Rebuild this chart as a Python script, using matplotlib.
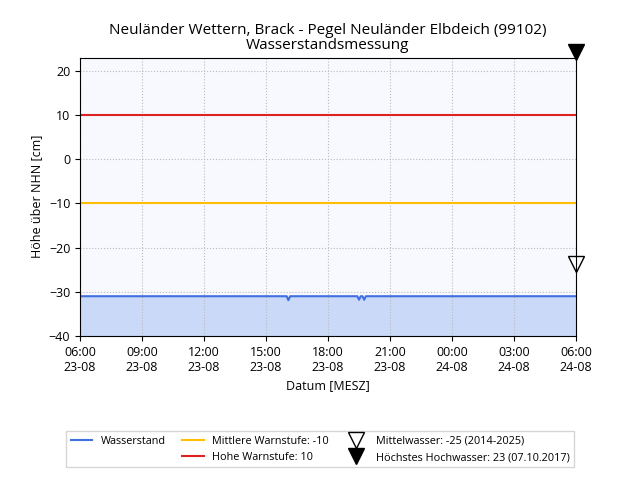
import matplotlib.pyplot as plt
import matplotlib.dates as mdates
from matplotlib.lines import Line2D
import numpy as np
import pandas as pd

plt.rcParams['font.family'] = ['Open Sans', 'DejaVu Sans']

# water level, 5-minute readings from 23-08 06:00 to 24-08 06:00
times = pd.date_range("2025-08-23 06:00", "2025-08-24 06:00", freq="5min")
level = np.full(len(times), -31.0)
dips = {"2025-08-23 16:05": -31.9, "2025-08-23 19:30": -31.8, "2025-08-23 19:45": -31.8}
for t, v in dips.items():
    level[times.get_loc(pd.Timestamp(t))] = v

warn_mid = -10
warn_high = 10
mw = -25
hhw = 23

fig = plt.figure(figsize=(6.4, 4.8), dpi=100)
ax = fig.add_axes([0.125, 0.3, 0.775, 0.58])
ax.set_facecolor("#f8f8ff")

ax.fill_between(times, level, -40, color="#cad9f7")
h1, = ax.plot(times, level, color="#3f6fe0", lw=1.5)
h2 = ax.axhline(warn_mid, color="#ffbf00", lw=1.5)
h3 = ax.axhline(warn_high, color="#dd2222", lw=1.5)
h4, = ax.plot([times[-1]], [mw + 1.3], marker="v", ms=11, mfc="white", mec="black", ls="none",
              clip_on=False)
h5, = ax.plot([times[-1]], [hhw + 1.3], marker="v", ms=11, color="black", ls="none",
              clip_on=False)

ax.set_xlim(times[0], times[-1])
ax.set_ylim(-40, 23)
ax.set_yticks(range(-40, 21, 10))
ax.xaxis.set_major_locator(mdates.HourLocator(interval=3))
ax.xaxis.set_major_formatter(mdates.DateFormatter("%H:%M\n%d-%m"))
ax.grid(True, ls=":", color="#bbbbbb", lw=0.8)
ax.tick_params(labelsize=9)
ax.set_xlabel("Datum [MESZ]", fontsize=9)
ax.set_ylabel("Höhe über NHN [cm]", fontsize=9)
ax.set_title("Neuländer Wettern, Brack - Pegel Neuländer Elbdeich (99102)\nWasserstandsmessung",
             fontsize=11, linespacing=1.0)

blank = Line2D([], [], ls="none")
fig.legend([h1, blank, h2, h3, h4, h5],
           ["Wasserstand", "", "Mittlere Warnstufe: -10", "Hohe Warnstufe: 10",
            "Mittelwasser: -25 (2014-2025)", "Höchstes Hochwasser: 23 (07.10.2017)"],
           loc="lower center", bbox_to_anchor=(0.5, 0.015), ncol=3, fontsize=7.8,
           fancybox=False, edgecolor="#cccccc", columnspacing=1.5)

fig.savefig("out.png")
